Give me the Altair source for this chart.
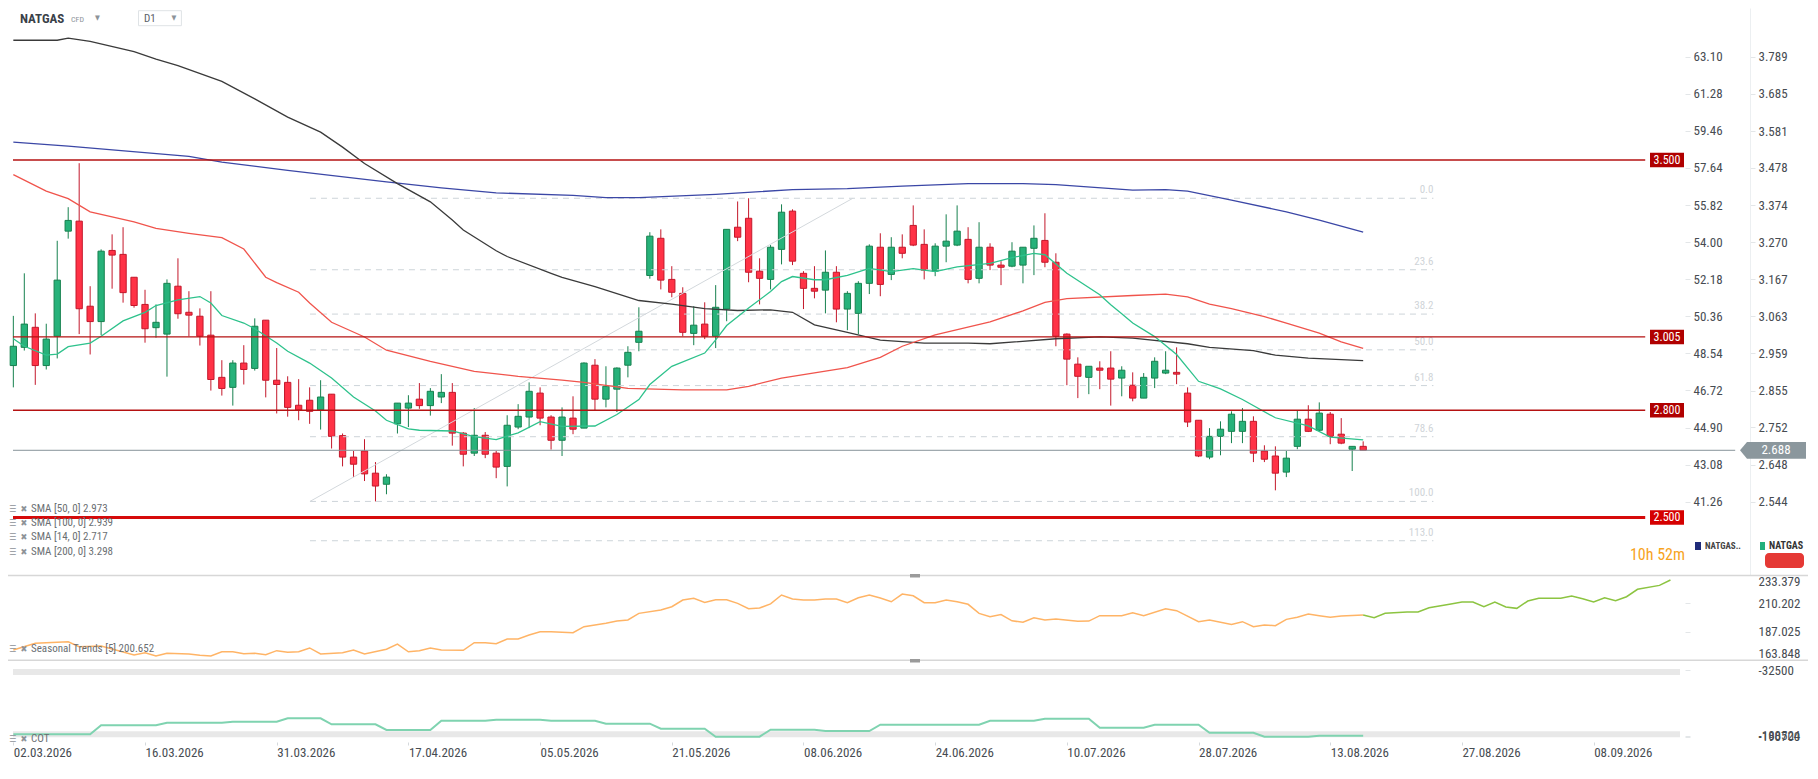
import altair as alt
import numpy as np
import pandas as pd

FONT = "Roboto Condensed, Liberation Sans Narrow, DejaVu Sans Condensed, Roboto, sans-serif"

# ---------------- data ----------------
OPEN = [2.925,2.976,3.032,2.925,3.007,3.301,3.329,3.091,3.048,3.247,
        3.236,3.172,3.096,3.031,3.013,3.147,3.074,3.063,3.010,2.892,
        2.864,2.932,2.917,3.052,2.884,2.878,2.814,2.828,2.801,2.845,
        2.729,2.669,2.686,2.624,2.593,2.762,2.806,2.831,2.813,2.837,
        2.850,2.736,2.680,2.730,2.680,2.643,2.753,2.781,2.848,2.781,
        2.716,2.778,2.750,2.926,2.831,2.859,2.926,2.990,3.177,3.281,
        3.166,3.127,3.015,3.041,3.007,3.083,3.312,3.337,3.189,3.166,
        3.250,3.357,3.183,3.141,3.136,3.186,3.083,3.071,3.155,3.256,
        3.180,3.256,3.317,3.264,3.189,3.259,3.262,3.278,3.169,3.256,
        3.206,3.203,3.206,3.253,3.275,3.214,3.013,2.929,2.892,2.918,
        2.918,2.890,2.870,2.834,2.890,2.904,2.906,2.848,2.772,2.669,
        2.727,2.741,2.741,2.769,2.686,2.672,2.627,2.699,2.775,2.744,
        2.789,2.733,2.691,2.699]
HIGH = [3.064,3.183,3.071,3.042,3.274,3.368,3.491,3.147,3.250,3.292,
        3.312,3.172,3.137,3.096,3.166,3.225,3.133,3.085,3.133,2.940,
        2.940,2.982,3.057,3.052,2.974,2.895,2.887,2.864,2.884,2.845,
        2.735,2.686,2.719,2.655,2.621,2.820,2.842,2.876,2.862,2.901,
        2.876,2.739,2.806,2.739,2.686,2.786,2.817,2.878,2.864,2.786,
        2.808,2.839,2.934,2.943,2.923,2.920,2.979,3.088,3.298,3.306,
        3.203,3.144,3.091,3.102,3.150,3.306,3.384,3.393,3.225,3.262,
        3.376,3.362,3.189,3.203,3.247,3.203,3.133,3.161,3.264,3.295,
        3.284,3.292,3.373,3.306,3.267,3.348,3.373,3.312,3.326,3.267,
        3.217,3.270,3.256,3.317,3.351,3.239,3.015,2.948,2.923,2.937,
        2.965,2.923,2.906,2.904,2.948,2.965,2.976,2.864,2.772,2.750,
        2.769,2.797,2.806,2.783,2.702,2.699,2.686,2.800,2.814,2.822,
        2.795,2.778,2.699,2.713]
LOW = [2.864,2.967,2.871,2.914,2.945,3.280,3.013,2.956,3.010,3.140,
       3.101,3.087,2.989,3.003,2.894,3.056,3.007,2.981,2.855,2.841,
       2.813,2.872,2.911,2.836,2.791,2.782,2.772,2.762,2.746,2.693,
       2.643,2.613,2.602,2.545,2.565,2.735,2.753,2.804,2.785,2.820,
       2.701,2.643,2.672,2.666,2.610,2.587,2.747,2.750,2.758,2.690,
       2.672,2.733,2.750,2.800,2.808,2.795,2.892,2.965,3.168,3.138,
       3.116,3.007,2.982,2.999,2.974,3.049,3.273,3.158,3.096,3.138,
       3.208,3.206,3.083,3.113,3.071,3.046,3.024,3.013,3.125,3.119,
       3.164,3.225,3.259,3.166,3.175,3.214,3.259,3.155,3.155,3.192,
       3.150,3.200,3.155,3.178,3.200,2.979,2.870,2.834,2.845,2.859,
       2.813,2.839,2.825,2.834,2.862,2.901,2.873,2.753,2.669,2.663,
       2.674,2.708,2.708,2.655,2.655,2.576,2.613,2.691,2.739,2.741,
       2.705,2.705,2.630,2.688]
CLOSE = [2.979,3.041,2.925,2.999,3.164,3.331,3.084,3.048,3.245,3.234,
         3.129,3.093,3.028,3.046,3.155,3.070,3.066,3.007,2.886,2.861,
         2.932,2.914,3.035,2.884,2.872,2.808,2.801,2.797,2.837,2.727,
         2.669,2.649,2.622,2.588,2.613,2.820,2.820,2.813,2.853,2.850,
         2.736,2.677,2.730,2.677,2.641,2.758,2.783,2.853,2.778,2.716,
         2.781,2.747,2.932,2.831,2.867,2.918,2.962,3.021,3.287,3.164,
         3.130,3.018,3.038,3.007,3.088,3.306,3.284,3.186,3.169,3.256,
         3.354,3.217,3.141,3.133,3.186,3.083,3.127,3.155,3.259,3.152,
         3.256,3.239,3.262,3.192,3.259,3.273,3.301,3.166,3.256,3.206,
         3.200,3.245,3.256,3.281,3.214,3.007,2.943,2.895,2.923,2.912,
         2.887,2.912,2.834,2.892,2.937,2.912,2.901,2.767,2.672,2.727,
         2.747,2.789,2.769,2.680,2.663,2.624,2.666,2.775,2.741,2.792,
         2.727,2.708,2.699,2.688]

SMA14_IDX = [0,1,3,4,5,7,8,10,12,13,15,17,18,19,21,22,24,25,27,29,31,33,34,36,37,40,42,44,46,48,50,53,55,57,58,60,63,64,65,67,69,70,71,73,74,76,78,80,82,84,86,89,91,93,94,96,99,100,101,102,104,106,108,110,112,115,118,120,123]
SMA14_VAL = [3.000,2.979,2.954,2.957,2.978,2.988,3.007,3.050,3.074,3.093,3.109,3.118,3.100,3.065,3.044,3.028,2.988,2.965,2.932,2.890,2.837,2.798,2.772,2.748,2.744,2.742,2.726,2.718,2.737,2.768,2.755,2.756,2.788,2.830,2.872,2.923,2.960,2.997,3.037,3.086,3.132,3.160,3.174,3.165,3.165,3.177,3.197,3.188,3.196,3.188,3.201,3.211,3.227,3.239,3.235,3.183,3.123,3.095,3.070,3.044,3.006,2.956,2.881,2.860,2.830,2.779,2.756,2.725,2.717]
SMA50_IDX = [0,3,5,7,11,13,16,19,21,23,24,26,27,29,32,34,38,42,46,50,52,56,61,65,67,70,76,79,81,84,89,92,94,96,102,105,107,109,111,114,116,119,121,123]
SMA50_VAL = [3.459,3.413,3.392,3.355,3.327,3.309,3.295,3.283,3.251,3.172,3.157,3.130,3.100,3.046,3.005,2.968,2.937,2.909,2.895,2.884,2.878,2.861,2.857,2.857,2.867,2.890,2.919,2.948,2.979,3.011,3.047,3.078,3.102,3.112,3.121,3.125,3.117,3.097,3.084,3.062,3.044,3.016,2.991,2.973]
SMA100_IDX = [0,4,5,7,11,13,15,19,22,25,28,30,32,35,38,40,41,44,45,49,50,53,57,60,63,66,69,71,73,76,79,83,87,89,95,99,102,107,109,113,115,118,123]
SMA100_VAL = [3.835,3.835,3.841,3.832,3.803,3.782,3.764,3.720,3.671,3.620,3.578,3.536,3.490,3.434,3.383,3.332,3.304,3.246,3.230,3.183,3.172,3.146,3.107,3.097,3.084,3.079,3.081,3.074,3.039,3.018,2.996,2.988,2.988,2.986,3.000,3.005,3.002,2.986,2.976,2.967,2.954,2.946,2.939]
SMA200_IDX = [0,5,16,19,25,34,39,44,51,54,57,64,71,76,81,87,92,95,102,105,107,111,116,119,123]
SMA200_VAL = [3.550,3.539,3.510,3.494,3.471,3.439,3.422,3.408,3.401,3.395,3.395,3.404,3.417,3.420,3.427,3.434,3.434,3.431,3.416,3.417,3.413,3.388,3.355,3.332,3.298]

SEAS_HIST_IDX = [0,2,5,6,8,11,12,13,14,16,17,18,19,20,21,22,23,24,25,26,27,28,30,31,32,34,35,36,37,38,39,41,42,43,44,45,46,47,48,49,51,52,54,55,56,57,59,60,61,62,63,64,65,66,67,68,69,70,71,72,73,74,75,76,77,78,79,80,81,82,83,84,85,86,87,88,89,90,91,92,93,94,95,97,98,99,101,102,103,105,106,108,109,111,112,113,114,115,116,117,118,119,120,121,123]
SEAS_HIST_VAL = [172.0,177.5,178.8,174.7,175.3,167.9,169.8,167.1,169.3,168.8,167.7,167.1,170.6,170.6,169.0,169.3,168.2,171.5,170.1,170.6,173.7,168.8,169.8,172.0,168.8,172.6,176.9,170.6,171.5,173.7,172.0,171.8,178.0,178.0,177.2,181.0,181.0,184.3,187.0,187.0,186.2,191.1,193.9,195.7,196.6,202.0,204.7,207.4,212.9,214.3,211.0,213.2,213.2,210.2,205.8,206.4,209.7,217.0,213.7,212.9,212.9,213.7,213.7,210.7,214.8,217.0,214.6,211.5,217.8,216.4,210.7,210.7,212.9,211.5,209.4,202.0,199.3,201.0,195.9,194.7,198.4,196.6,197.4,195.5,195.7,200.1,200.1,202.5,200.1,205.8,204.2,195.2,196.6,193.0,195.2,191.1,192.5,191.9,197.1,198.8,201.5,200.1,198.8,199.8,200.652]
SEAS_FUT_IDX = [123,124,125,127,128,129,131,132,133,134,135,136,137,138,139,141,142,143,144,145,146,147,148,150,151]
SEAS_FUT_VAL = [200.652,198.4,202.0,203.1,203.1,206.6,209.7,211.3,211.3,207.4,211.3,207.2,206.1,212.1,214.3,214.3,216.2,214.0,211.3,214.8,212.4,215.6,221.7,224.9,229.3]

COT_START = [0,8,14,20,25,29,34,39,44,49,54,59,64,69,74,79,89,94,99,104,109,114,119]
COT_VALUE = [-185000,-163660,-157500,-155120,-147060,-161290,-174810,-152750,-150380,-152750,-159870,-171730,-190700,-174100,-177180,-162240,-152750,-148010,-169350,-162240,-181210,-190700,-188524]
COT_BANDS = [-37240, -185000]

LEVELS = [3.500, 3.005, 2.800]
STRONG_LEVEL = [2.500]
CURRENT = 2.688

FIB_LABELS = ["0.0", "23.6", "38.2", "50.0", "61.8", "78.6", "100.0", "113.0"]
FIB_PRICES = [3.393, 3.193, 3.069, 2.969, 2.869, 2.726, 2.545, 2.435]
FIB_SPAN = [27.03, 129.4]
TREND_IDX = [27.03, 76.5]
TREND_VAL = [2.545, 3.393]

DATE_LABELS = ["02.03.2026", "16.03.2026", "31.03.2026", "17.04.2026", "05.05.2026",
               "21.05.2026", "08.06.2026", "24.06.2026", "10.07.2026", "28.07.2026",
               "13.08.2026", "27.08.2026", "08.09.2026"]
DATE_STEP = 12
PRICE_TICKS = [3.789, 3.685, 3.581, 3.478, 3.374, 3.270, 3.167, 3.063, 2.959, 2.855, 2.752, 2.648, 2.544]
ALT_TICKS = [63.10, 61.28, 59.46, 57.64, 55.82, 54.00, 52.18, 50.36, 48.54, 46.72, 44.90, 43.08, 41.26]
SEAS_TICKS = [163.848, 187.025, 210.202, 233.379]
COT_TICKS = [-32500, -188524, -190700]

SMA_LEGEND = ["SMA [50, 0] 2.973", "SMA [100, 0] 2.939", "SMA [14, 0] 2.717", "SMA [200, 0] 3.298"]

# ---------------- layout / style ----------------
VIEW_W, VIEW_H = 1677, 734
X_DOMAIN = [-0.03, 151.87]
LEVEL_END = 148.70
CUR_END = 156.9
PRICE_DOMAIN = [2.33776, 3.92517]
PRICE_RANGE = [567.5, 0]
ALT_PER_PRICE = (ALT_TICKS[0] - ALT_TICKS[-1]) / (PRICE_TICKS[0] - PRICE_TICKS[-1])
ALT_DOMAIN = [ALT_TICKS[-1] + (d - PRICE_TICKS[-1]) * ALT_PER_PRICE for d in PRICE_DOMAIN]
SEAS_RANGE = [652, 567]
COT_RANGE = [728.7, 662]

UP_FILL, UP_EDGE = "#27b27a", "#17814f"
DN_FILL, DN_EDGE = "#ff3246", "#c3182b"
LABEL_COLOR = "#474c52"

x_label_expr = "[" + ",".join("'%s'" % d for d in DATE_LABELS) + "][round(datum.value / %d)]" % DATE_STEP
X_SCALE = alt.Scale(domain=X_DOMAIN, nice=False, zero=False)
X_AXIS = alt.Axis(values=list(range(0, DATE_STEP * len(DATE_LABELS), DATE_STEP)), labelExpr=x_label_expr,
                  title=None, grid=False, domain=False, tickSize=3, tickColor="#d5d9dc",
                  labelAlign="left", labelBaseline="top", labelPadding=1, labelFlush=False,
                  labelFontSize=13, labelColor=LABEL_COLOR, labelFont=FONT)


def X(field):
    return alt.X(field, type="quantitative", scale=X_SCALE, axis=X_AXIS)


PRICE_SCALE = alt.Scale(domain=PRICE_DOMAIN, range=PRICE_RANGE, nice=False, zero=False)
PRICE_AXIS = alt.Axis(orient="right", offset=65, values=PRICE_TICKS, format=".3f", title=None, grid=False,
                      tickSize=5, tickColor="#e3e6e8", domainColor="#eceff1", labelPadding=3,
                      labelFontSize=13, labelColor=LABEL_COLOR, labelFont=FONT, labelAlign="left")


def YP(field):
    return alt.Y(field, type="quantitative", scale=PRICE_SCALE, axis=PRICE_AXIS)


# ---------------- price panel ----------------
n = len(OPEN)
candles = pd.DataFrame({"i": np.arange(n), "o": OPEN, "h": HIGH, "l": LOW, "c": CLOSE})
candles["dir"] = np.where(candles["c"] >= candles["o"], "up", "down")
DIR_DOMAIN = ["up", "down"]

wicks = alt.Chart(candles).mark_rule(strokeWidth=1).encode(
    x=X("i"), y=YP("l"), y2="h:Q",
    color=alt.Color("dir:N", scale=alt.Scale(domain=DIR_DOMAIN, range=[UP_EDGE, DN_EDGE]), legend=None))
bodies = alt.Chart(candles).mark_bar(width=6.3, strokeWidth=1, clip=True).encode(
    x=X("i"), y=YP("o"), y2="c:Q",
    fill=alt.Fill("dir:N", scale=alt.Scale(domain=DIR_DOMAIN, range=[UP_FILL, DN_FILL]), legend=None),
    stroke=alt.Stroke("dir:N", scale=alt.Scale(domain=DIR_DOMAIN, range=[UP_EDGE, DN_EDGE]), legend=None))

fib_df = pd.DataFrame({"p": FIB_PRICES, "lab": FIB_LABELS, "x0": FIB_SPAN[0], "x1": FIB_SPAN[1]})
fib_rules = alt.Chart(fib_df).mark_rule(strokeDash=[6, 5], color="#cdd4d9", strokeWidth=1).encode(
    x=X("x0"), x2="x1:Q", y=YP("p"))
fib_text = alt.Chart(fib_df).mark_text(align="right", baseline="middle", dy=-8, fontSize=11,
                                       color="#cfd4d8", font=FONT).encode(
    x=X("x1"), y=YP("p"), text="lab:N")
trend = alt.Chart(pd.DataFrame({"i": TREND_IDX, "v": TREND_VAL})).mark_line(
    color="#d3d8dc", strokeWidth=1).encode(x=X("i"), y=YP("v"))


def sma(idx, val, color, w=1.3):
    return alt.Chart(pd.DataFrame({"i": idx, "v": val})).mark_line(color=color, strokeWidth=w).encode(
        x=X("i"), y=YP("v"))


sma200 = sma(SMA200_IDX, SMA200_VAL, "#3b47a6")
sma100 = sma(SMA100_IDX, SMA100_VAL, "#3a3a3a")
sma50 = sma(SMA50_IDX, SMA50_VAL, "#f0544c")
sma14 = sma(SMA14_IDX, SMA14_VAL, "#2ec28c")

lvl_df = pd.DataFrame({"p": LEVELS, "x0": X_DOMAIN[0], "x1": LEVEL_END})
strong_df = pd.DataFrame({"p": STRONG_LEVEL, "x0": X_DOMAIN[0], "x1": LEVEL_END})
cur_df = pd.DataFrame({"p": [CURRENT], "x0": X_DOMAIN[0], "x1": CUR_END})

lvl_rules = alt.Chart(lvl_df).mark_rule(color="#b51212", strokeWidth=1.3).encode(x=X("x0"), x2="x1:Q", y=YP("p"))
strong_rule = alt.Chart(strong_df).mark_rule(color="#d60a0a", strokeWidth=2.8).encode(x=X("x0"), x2="x1:Q", y=YP("p"))
cur_rule = alt.Chart(cur_df).mark_rule(color="#87939a", strokeWidth=1).encode(x=X("x0"), x2="x1:Q", y=YP("p"))

BOX_PATH = "M-1,-0.4235L1,-0.4235L1,0.4235L-1,0.4235Z"
ARROW_PATH = "M-1,0L-0.788,-0.253L1,-0.253L1,0.253L-0.788,0.253Z"
TAG_X = 1659
CUR_TAG_X = 1765


def tags(df, color):
    boxes = alt.Chart(df).mark_point(shape=BOX_PATH, size=34 * 34, filled=True, opacity=1,
                                     strokeWidth=0, color=color).encode(x=alt.value(TAG_X), y=YP("p"))
    txt = alt.Chart(df).mark_text(color="white", fontSize=12, font=FONT, baseline="middle").encode(
        x=alt.value(TAG_X), y=YP("p"), text=alt.Text("p:Q", format=".3f"))
    return [boxes, txt]


cur_box = alt.Chart(cur_df).mark_point(shape=ARROW_PATH, size=66 * 66, filled=True, opacity=1,
                                        strokeWidth=0, color="#8b979d").encode(x=alt.value(CUR_TAG_X), y=YP("p"))
cur_txt = alt.Chart(cur_df).mark_text(color="white", fontSize=13, font=FONT, baseline="middle").encode(
    x=alt.value(CUR_TAG_X + 3), y=YP("p"), text=alt.Text("p:Q", format=".3f"))

price = alt.layer(wicks, bodies, fib_rules, fib_text, trend, sma200, sma100, sma50, sma14,
                  lvl_rules, strong_rule, cur_rule, *tags(lvl_df, "#b00000"), *tags(strong_df, "#d50000"),
                  cur_box, cur_txt)

alt_layer = alt.Chart(pd.DataFrame({"a": ALT_TICKS})).mark_point(opacity=0).encode(
    y=alt.Y("a:Q", scale=alt.Scale(domain=ALT_DOMAIN, range=PRICE_RANGE, nice=False, zero=False),
            axis=alt.Axis(orient="right", offset=0, values=ALT_TICKS, format=".2f", title=None, grid=False,
                          domain=False, tickSize=5, tickColor="#e3e6e8", labelPadding=3, labelFontSize=13,
                          labelColor=LABEL_COLOR, labelFont=FONT, labelAlign="left")))

# ---------------- seasonal panel ----------------
SEAS_SCALE = alt.Scale(domain=[SEAS_TICKS[0], SEAS_TICKS[-1]], range=SEAS_RANGE, nice=False, zero=False)
SEAS_AXIS = alt.Axis(orient="right", offset=0, values=SEAS_TICKS, format=".3f", title=None, grid=False,
                     domain=False, tickSize=5, tickColor="#e3e6e8", labelPadding=68, labelFlush=True,
                     labelFontSize=13, labelColor=LABEL_COLOR, labelFont=FONT, labelAlign="left")
seas_hist = alt.Chart(pd.DataFrame({"i": SEAS_HIST_IDX, "v": SEAS_HIST_VAL})).mark_line(
    color="#ffb466", strokeWidth=1.5).encode(x=X("i"), y=alt.Y("v:Q", scale=SEAS_SCALE, axis=SEAS_AXIS))
seas_fut = alt.Chart(pd.DataFrame({"i": SEAS_FUT_IDX, "v": SEAS_FUT_VAL})).mark_line(
    color="#8cc441", strokeWidth=1.5).encode(x=X("i"), y=alt.Y("v:Q", scale=SEAS_SCALE, axis=SEAS_AXIS))
seasonal = alt.layer(seas_hist, seas_fut)

# ---------------- COT panel ----------------
cot_x, cot_y = [], []
for k, (s, v) in enumerate(zip(COT_START, COT_VALUE)):
    e = COT_START[k + 1] - 1 if k + 1 < len(COT_START) else n - 1
    cot_x += [s, e]
    cot_y += [v, v]
COT_SCALE = alt.Scale(domain=[COT_TICKS[-1], COT_TICKS[0]], range=COT_RANGE, nice=False, zero=False)
COT_AXIS = alt.Axis(orient="right", offset=0, values=COT_TICKS, labelExpr="'' + datum.value", title=None,
                    grid=False, domain=False, tickSize=5, tickColor="#e3e6e8", labelPadding=68,
                    labelOverlap=False, labelFontSize=13, labelColor=LABEL_COLOR, labelFont=FONT,
                    labelAlign="left")
cot_bands = alt.Chart(pd.DataFrame({"v": COT_BANDS, "x0": X_DOMAIN[0], "x1": X_DOMAIN[1]})).mark_rule(
    color="#e8e8e8", strokeWidth=6).encode(x=X("x0"), x2="x1:Q", y=alt.Y("v:Q", scale=COT_SCALE, axis=COT_AXIS))
cot_line = alt.Chart(pd.DataFrame({"i": cot_x, "v": cot_y})).mark_line(
    color="#7fd3b0", strokeWidth=2).encode(x=X("i"), y=alt.Y("v:Q", scale=COT_SCALE, axis=COT_AXIS))
cot = alt.layer(cot_bands, cot_line)

# ---------------- decorations ----------------
ONE = alt.Data(values=[{}])


def label(txt, x, y, size=11, color="#6b6f73", weight="normal", align="left"):
    return alt.Chart(ONE).mark_text(text=txt, font=FONT, fontSize=size, color=color, fontWeight=weight,
                                    align=align, baseline="middle").encode(x=alt.value(x), y=alt.value(y))


def rect(x1, y1, x2, y2, fill, stroke=None, r=0):
    kw = dict(fill=fill, cornerRadius=r)
    if stroke:
        kw["stroke"] = stroke
        kw["strokeWidth"] = 1
    return alt.Chart(ONE).mark_rect(**kw).encode(x=alt.value(x1), x2=alt.value(x2), y=alt.value(y1), y2=alt.value(y2))


def hline(y, x1, x2, color, w):
    return alt.Chart(ONE).mark_rule(color=color, strokeWidth=w).encode(x=alt.value(x1), x2=alt.value(x2), y=alt.value(y))


deco = [
    hline(567.5, 0, 1800, "#d7d7d7", 1.5),
    hline(652.3, 0, 1800, "#d7d7d7", 1.5),
    rect(902, 566, 912, 569.5, "#9b9b9b"),
    rect(902, 651, 912, 654.5, "#9b9b9b"),
    label("NATGAS", 12, 11, size=13, color="#3a4149", weight="bold"),
    label("CFD", 63, 12, size=8, color="#8d9399"),
    label("▼", 89.5, 9.5, size=7, color="#8d9399", align="center"),
    rect(130.5, 2.7, 173.4, 17.7, "#ffffff", stroke="#dfe3e6"),
    label("D1", 136, 10.5, size=11, color="#5a6068"),
    label("▼", 166, 10, size=7, color="#8d9399", align="center"),
    label("10h 52m", 1677, 547, size=16, color="#f7a31c", align="right"),
    rect(1687, 534, 1693, 542, "#1f2b7a"),
    label("NATGAS..", 1697, 538, size=9, color="#444444", weight="bold"),
    rect(1752, 534, 1757, 542, "#22b07d"),
    label("NATGAS", 1761, 538, size=10, color="#333333", weight="bold"),
    rect(1757, 545, 1796, 560, "#e53935", r=4),
]
legend_rows = [(t, y) for t, y in zip(SMA_LEGEND, [501.3, 515.3, 529.3, 543.7])]
legend_rows += [("Seasonal Trends [5] 200.652", 641.3), ("COT", 731.3)]
for t, y in legend_rows:
    deco.append(label("☰", 1, y, size=9, color="#8e9398", align="left"))
    deco.append(label("✖", 16, y, size=9, color="#8e9398", align="center"))
    deco.append(label(t, 23, y, size=11, color="#6b6f73"))

chart = alt.layer(price, alt_layer, seasonal, cot, *deco).resolve_scale(y="independent").properties(
    width=VIEW_W, height=VIEW_H,
    autosize=alt.AutoSizeParams(type="none"),
    padding={"left": 0, "top": 0, "right": 123, "bottom": 28},
    background="white",
).configure_view(stroke=None)

chart.save("out.html", embed_options={"renderer": "svg", "actions": False})
